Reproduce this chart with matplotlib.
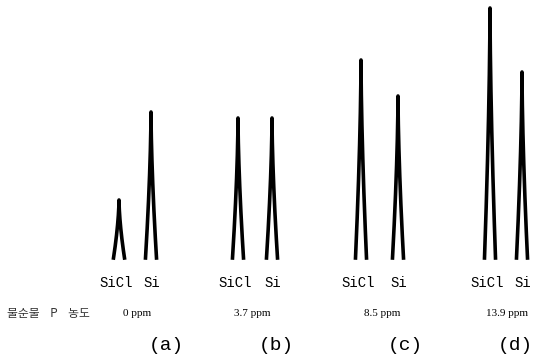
import matplotlib
matplotlib.use("Agg")
import matplotlib.pyplot as plt
import numpy as np

# peak data (arbitrary intensity units)
samples = ["(a)", "(b)", "(c)", "(d)"]
conc_labels = ["0 ppm", "3.7 ppm", "8.5 ppm", "13.9 ppm"]
sicl_pos = [119, 238, 361, 490]
si_pos = [151, 272, 398, 522]
sicl_height = [58, 140, 198, 250]
si_height = [146, 140, 162, 186]


def peak(x0, H, w=5.5, p=1.6):
    """narrow spike whose two flanks spread apart near the base (no baseline)"""
    h = np.linspace(0, H, 80)
    dx = w * (1 - h / H) ** p
    xs = np.concatenate([x0 - dx, (x0 + dx)[::-1]])
    ys = np.concatenate([h, h[::-1]])
    return xs, ys


fig = plt.figure(figsize=(5.35, 3.59), dpi=100)
ax = fig.add_axes([0, 0, 1, 1])
ax.set_xlim(0, 535)
ax.set_ylim(-101, 258)
ax.axis("off")

for i in range(4):
    for xp, hp in ((sicl_pos[i], sicl_height[i]), (si_pos[i], si_height[i])):
        xs, ys = peak(xp, hp)
        ax.plot(xs, ys, color="black", lw=2.6, solid_joinstyle="round")

mono = ["Liberation Mono"]
for i in range(4):
    ax.text(sicl_pos[i] - 3, -25, "SiCl", ha="center", va="center",
            fontsize=10, family=mono)
    ax.text(si_pos[i] + 1, -25, "Si", ha="center", va="center",
            fontsize=10, family=mono)

# concentration row
ax.text(7, -55, "불순물    P    농도", ha="left", va="center", fontsize=8.5,
        family=["Noto Sans CJK KR", "DejaVu Sans"], color="#333333")
conc_x = [137, 252, 382, 507]
for i in range(4):
    ax.text(conc_x[i], -55, conc_labels[i], ha="center", va="center",
            fontsize=8, family=["Liberation Serif"])

lab_x = [166, 276, 405, 515]
for i in range(4):
    ax.text(lab_x[i], -87, samples[i], ha="center", va="center",
            fontsize=14, family=mono)

fig.savefig("out.png", dpi=100, facecolor="white")
